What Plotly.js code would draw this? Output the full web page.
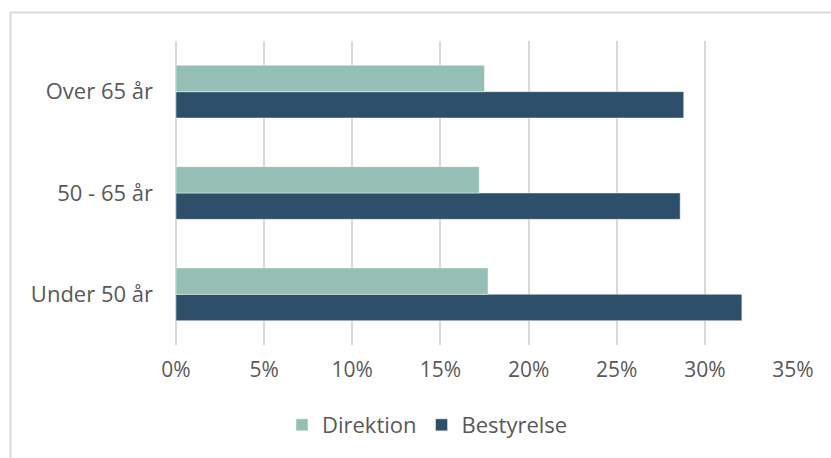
<!DOCTYPE html>
<html>
<head>
<meta charset="utf-8">
<script src="https://cdn.plot.ly/plotly-3.0.1.min.js"></script>
<style>html,body{margin:0;padding:0;background:#fff;}#chart{width:831px;height:458px;}</style>
</head>
<body>
<div id="chart"></div>
<script>
const categories = ["Under 50 år", "50 - 65 år", "Over 65 år"];
const direktion = [0.177, 0.172, 0.175];
const bestyrelse = [0.321, 0.286, 0.288];
const xTickVals = [0, 0.05, 0.10, 0.15, 0.20, 0.25, 0.30, 0.35];
const xTickText = ["0%", "5%", "10%", "15%", "20%", "25%", "30%", "35%"];

const W = 831, H = 458;
const L = 176, R = 793, T = 41, B = 345;
const px = x => (x - L) / (R - L);
const py = y => (B - y) / (B - T);

const traces = [
  {type: "bar", orientation: "h", name: "Bestyrelse", y: categories, x: bestyrelse,
   marker: {color: "#2d4f69", line: {color: "rgba(255,255,255,0.6)", width: 0.75}}, hoverinfo: "x+y"},
  {type: "bar", orientation: "h", name: "Direktion", y: categories, x: direktion,
   marker: {color: "#95bfb4", line: {color: "rgba(255,255,255,0.6)", width: 0.75}}, hoverinfo: "x+y"}
];

const fontFam = "'Open Sans', sans-serif";
const layout = {
  width: W, height: H,
  margin: {l: L, r: W - R, t: T, b: H - B, pad: 0},
  paper_bgcolor: "#ffffff", plot_bgcolor: "#ffffff",
  font: {family: fontFam, size: 21, color: "#595959"},
  barmode: "group", bargap: 0.48, bargroupgap: 0,
  showlegend: true,
  legend: {orientation: "h", traceorder: "reversed", x: px(282), xanchor: "left",
           y: py(425), yanchor: "middle", font: {family: fontFam, size: 22, color: "#595959"},
           itemwidth: 30, tracegroupgap: 0},
  xaxis: {range: [0, 0.35], tickvals: xTickVals, ticktext: xTickText,
          showgrid: true, gridcolor: "#d9d9d9", gridwidth: 2,
          zeroline: true, zerolinecolor: "#d9d9d9", zerolinewidth: 2,
          showline: false, ticks: "", ticklabelstandoff: 10, fixedrange: true},
  yaxis: {type: "category", categoryorder: "array", categoryarray: categories,
          showgrid: false, zeroline: false, showline: false, ticks: "",
          tickfont: {family: fontFam, size: 22, color: "#595959"},
          ticklabelstandoff: 22, fixedrange: true},
  shapes: [
    {type: "line", xref: "paper", yref: "paper", x0: px(10), x1: px(831), y0: py(12.5), y1: py(12.5),
     line: {color: "#d9d9d9", width: 2}},
    {type: "line", xref: "paper", yref: "paper", x0: px(10.5), x1: px(10.5), y0: py(12.5), y1: py(458),
     line: {color: "#d9d9d9", width: 2}}
  ]
};

Plotly.newPlot("chart", traces, layout, {displayModeBar: false, staticPlot: true});
</script>
</body>
</html>
